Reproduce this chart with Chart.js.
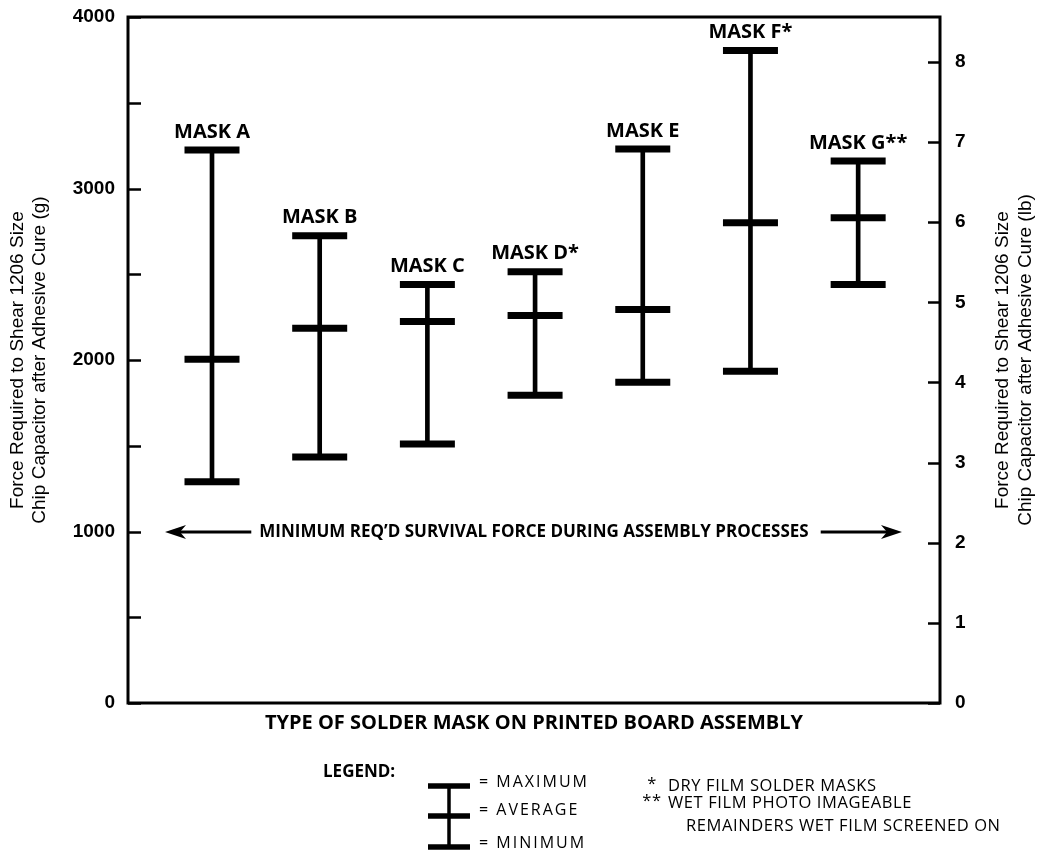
<!DOCTYPE html>
<html>
<head>
<meta charset="utf-8">
<title>Shear force by solder mask type</title>
<script src="https://cdn.jsdelivr.net/npm/chart.js@4.4.1/dist/chart.umd.min.js"></script>
<style>
  html, body { margin: 0; padding: 0; background: #fff; }
  #wrap { width: 1039px; height: 855px; position: relative; }
</style>
</head>
<body>
<div id="wrap"><canvas id="chart"></canvas></div>
<script>
// Shear force (grams) for each solder mask: maximum, average, minimum
const maskNames = ['MASK A', 'MASK B', 'MASK C', 'MASK D*', 'MASK E', 'MASK F*', 'MASK G**'];
const maxForce  = [3225, 2725, 2440, 2515, 3230, 3805, 3160];
const avgForce  = [2005, 2185, 2225, 2260, 2295, 2800, 2830];
const minForce  = [1290, 1435, 1510, 1795, 1870, 1935, 2440];

// Axis ticks: grams on the left (labelled every 1000, marks every 500), pounds on the right
const gramTickLabels = [0, 1000, 2000, 3000, 4000];
const gramMinorTicks = [500, 1500, 2500, 3500];
const poundTickLabels = [0, 1, 2, 3, 4, 5, 6, 7, 8];

const minRequiredForce = 1000;
const minRequiredText = 'MINIMUM REQ\u2019D SURVIVAL FORCE DURING ASSEMBLY PROCESSES';
const xTitle = 'TYPE OF SOLDER MASK ON PRINTED BOARD ASSEMBLY';
const leftTitle = ['Force Required to Shear 1206 Size', 'Chip Capacitor after Adhesive Cure (g)'];
const rightTitle = ['Force Required to Shear 1206 Size', 'Chip Capacitor after Adhesive Cure (lb)'];
const legendKey = ['= MAXIMUM', '= AVERAGE', '= MINIMUM'];
const footnotes = [
  ['*', 'DRY FILM SOLDER MASKS'],
  ['**', 'WET FILM PHOTO IMAGEABLE'],
  ['', 'REMAINDERS WET FILM SCREENED ON']
];

const INK = '#000';
const BOLD = '"Open Sans", "Noto Sans", sans-serif';
const ARIAL = '"Liberation Sans", Arial, sans-serif';

const stems = maskNames.map((_, i) => ({ x: i, y: [minForce[i], maxForce[i]] }));
const capData = arr => arr.map((v, i) => ({ x: i, y: v }));
const capStyle = {
  type: 'scatter',
  pointStyle: 'line',
  pointRadius: 27.5,
  pointHoverRadius: 27.5,
  pointBorderWidth: 7,
  pointHoverBorderWidth: 7,
  borderColor: INK,
  backgroundColor: INK
};

// Plot frame, inward tick marks, mask names, the minimum-force arrow, titles and legend
const decorations = {
  id: 'decorations',
  afterDraw(chart) {
    const { ctx, chartArea: a, scales } = chart;
    const y = scales.y, y2 = scales.y2, x = scales.x;
    ctx.save();
    ctx.strokeStyle = INK;
    ctx.fillStyle = INK;

    // frame
    ctx.lineWidth = 3;
    ctx.strokeRect(a.left, a.top, a.right - a.left, a.bottom - a.top);

    // left tick marks (major + minor), pointing inward
    ctx.lineWidth = 2.5;
    gramTickLabels.concat(gramMinorTicks).forEach(v => {
      const py = Math.round(y.getPixelForValue(v)) + 0.5;
      ctx.beginPath(); ctx.moveTo(a.left, py); ctx.lineTo(a.left + 13, py); ctx.stroke();
    });
    // right tick marks
    poundTickLabels.forEach(v => {
      const py = Math.round(y2.getPixelForValue(v)) + 0.5;
      ctx.beginPath(); ctx.moveTo(a.right, py); ctx.lineTo(a.right - 12, py); ctx.stroke();
    });

    // mask names above each maximum
    ctx.font = 'bold 20px ' + BOLD;
    ctx.textAlign = 'center';
    ctx.textBaseline = 'middle';
    maskNames.forEach((name, i) => {
      ctx.fillText(name, x.getPixelForValue(i), y.getPixelForValue(maxForce[i]) - 18);
    });

    // minimum required survival force arrow
    const ay = Math.round(y.getPixelForValue(minRequiredForce));
    const cx = (a.left + a.right) / 2;
    ctx.font = 'bold 17px ' + BOLD;
    const tw = ctx.measureText(minRequiredText).width;
    ctx.fillText(minRequiredText, cx, ay);
    const leftTip = a.left + 37, rightTip = a.right - 38;
    ctx.lineWidth = 3;
    ctx.beginPath();
    ctx.moveTo(cx - tw / 2 - 8, ay); ctx.lineTo(leftTip + 10, ay);
    ctx.moveTo(cx + tw / 2 + 12, ay); ctx.lineTo(rightTip - 10, ay);
    ctx.stroke();
    ctx.beginPath();
    ctx.moveTo(leftTip, ay); ctx.lineTo(leftTip + 21, ay - 7); ctx.lineTo(leftTip + 15, ay); ctx.lineTo(leftTip + 21, ay + 7); ctx.closePath();
    ctx.moveTo(rightTip, ay); ctx.lineTo(rightTip - 21, ay - 7); ctx.lineTo(rightTip - 15, ay); ctx.lineTo(rightTip - 21, ay + 7); ctx.closePath();
    ctx.fill();

    // x-axis title
    ctx.font = 'bold 20px ' + BOLD;
    ctx.fillText(xTitle, cx, a.bottom + 20);

    // right-axis title, reading bottom to top like the left one
    ctx.save();
    ctx.font = '19px ' + ARIAL;
    ctx.translate(a.right + 63, (a.top + a.bottom) / 2);
    ctx.rotate(-Math.PI / 2);
    ctx.fillText(rightTitle[0], 0, 0);
    ctx.fillText(rightTitle[1], 0, 23);
    ctx.restore();

    // legend
    ctx.textAlign = 'left';
    ctx.font = 'bold 17px ' + BOLD;
    ctx.fillText('LEGEND:', 323, 772);

    const kx = 449, capHalf = 21;
    const keyY = [786, 816, 847];
    ctx.lineWidth = 3.5;
    ctx.beginPath(); ctx.moveTo(kx, keyY[0]); ctx.lineTo(kx, keyY[2]); ctx.stroke();
    ctx.lineWidth = 5.5;
    keyY.forEach(ky => {
      ctx.beginPath(); ctx.moveTo(kx - capHalf, ky); ctx.lineTo(kx + capHalf, ky); ctx.stroke();
    });
    ctx.font = '16px ' + BOLD;
    ctx.letterSpacing = '2px';
    const keyTextY = [782, 810, 843];
    legendKey.forEach((t, i) => ctx.fillText(t, 479, keyTextY[i]));

    ctx.font = '16.5px ' + BOLD;
    ctx.letterSpacing = '0.6px';
    const noteY = [786, 803, 826];
    footnotes.forEach(([mark, text], i) => {
      if (mark) {
        ctx.textAlign = 'center';
        ctx.fillText(mark, 652, noteY[i] - 2);
      }
      ctx.textAlign = 'left';
      ctx.fillText(text, i === 2 ? 686 : 668, noteY[i]);
    });
    ctx.restore();
  }
};

const plainNumber = v => String(v);

new Chart(document.getElementById('chart'), {
  type: 'bar',
  data: {
    datasets: [
      { type: 'bar', data: stems, backgroundColor: INK, borderWidth: 0, barThickness: 4, order: 2 },
      Object.assign({ data: capData(maxForce), order: 1 }, capStyle),
      Object.assign({ data: capData(avgForce), order: 1 }, capStyle),
      Object.assign({ data: capData(minForce), order: 1 }, capStyle)
    ]
  },
  options: {
    responsive: true,
    maintainAspectRatio: false,
    animation: false,
    events: [],
    layout: { autoPadding: false, padding: { left: 0, right: 0, top: 17, bottom: 152 } },
    plugins: { legend: { display: false }, tooltip: { enabled: false } },
    scales: {
      x: {
        type: 'linear',
        offset: false,
        min: -0.78,
        max: 6.76,
        display: false
      },
      y: {
        position: 'left',
        min: 0,
        max: 4000,
        afterFit(s) { s.width = 128; s.paddingTop = 0; s.paddingBottom = 0; },
        afterBuildTicks(s) { s.ticks = gramTickLabels.map(v => ({ value: v })); },
        grid: { display: false, drawTicks: false },
        border: { display: false },
        ticks: { color: INK, padding: 13, callback: plainNumber, font: { family: ARIAL, size: 19, weight: 'bold' } },
        title: {
          display: true,
          text: leftTitle,
          color: INK,
          font: { family: ARIAL, size: 19, lineHeight: 1.2 },
          padding: { top: 6, bottom: 0 }
        }
      },
      y2: {
        position: 'right',
        min: 0,
        max: 8.56,
        afterFit(s) { s.width = 99; s.paddingTop = 0; s.paddingBottom = 0; },
        afterBuildTicks(s) { s.ticks = poundTickLabels.map(v => ({ value: v })); },
        grid: { display: false, drawTicks: false },
        border: { display: false },
        ticks: { color: INK, padding: 15, callback: plainNumber, font: { family: ARIAL, size: 19, weight: 'bold' } }
      }
    }
  },
  plugins: [decorations]
});
</script>
</body>
</html>
